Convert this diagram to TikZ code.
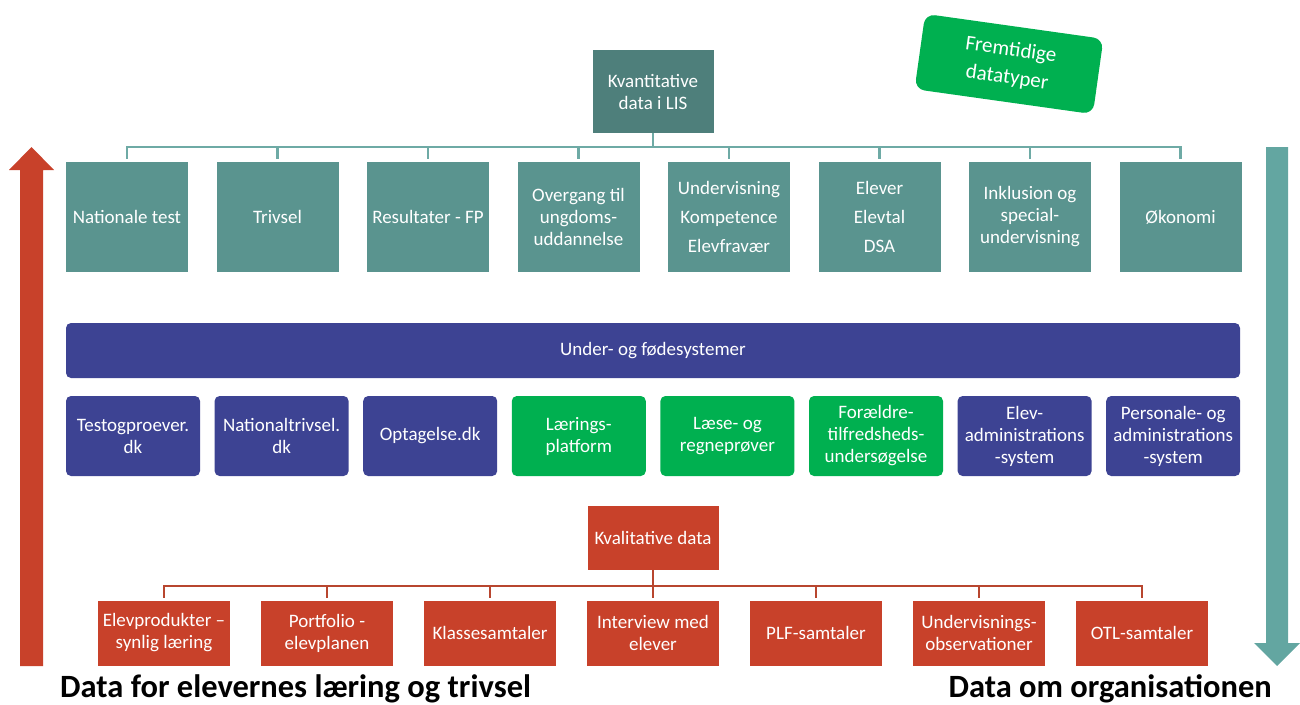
\documentclass[tikz,border=0pt]{standalone}
\usepackage{fontspec}
\setmainfont{Carlito}
\usetikzlibrary{positioning}

\definecolor{kvantdark}{HTML}{4E7F7B}
\definecolor{tealbox}{HTML}{5A948F}
\definecolor{tealline}{HTML}{6EAAA5}
\definecolor{tealarrow}{HTML}{63A6A1}
\definecolor{feedpurple}{HTML}{3D4393}
\definecolor{futuregreen}{HTML}{00B050}
\definecolor{redbox}{HTML}{C8412A}
\definecolor{redline}{HTML}{B8462F}

\begin{document}
\begin{tikzpicture}[x=1pt,y=-1pt,
    box/.style={fill=#1,text=white,align=center,inner sep=2pt,
      font=\fontsize{19}{22}\selectfont},
    quantbox/.style={box=tealbox,minimum width=122pt,minimum height=110pt},
    srcbox/.style={box=#1,rounded corners=5pt,minimum width=134pt,minimum height=80pt},
    qualbox/.style={box=redbox,minimum width=132pt,minimum height=65pt},
    tealconn/.style={draw=tealline,line width=2.5pt,shorten >=2.5pt},
    redconn/.style={draw=redline,line width=2.5pt,shorten >=2.5pt},
    bottomlabel/.style={inner sep=0pt,font=\fontsize{32.5}{38}\selectfont\bfseries}
  ]
    \useasboundingbox (0,0) rectangle (1300,704);

    % Side arrows
    \fill[redbox] (20,666) -- (20,170) -- (9,170) -- (31.5,147) -- (54,170)
      -- (43,170) -- (43,666) -- cycle;
    \fill[tealarrow] (1266,147) -- (1266,643) -- (1254,643) -- (1277,666)
      -- (1300,643) -- (1288,643) -- (1288,147) -- cycle;

    % Quantitative data
    \node[box=kvantdark,minimum width=121pt,minimum height=83pt] (kvant) at (653,91.5)
      {Kvantitative\\data i LIS};
    \foreach \name/\label [count=\i from 0] in {
        q1/{Nationale test},
        q2/{Trivsel},
        q3/{Resultater - FP},
        q4/{Overgang til\\ungdoms-\\uddannelse},
        q5/{Undervisning\\[7pt]Kompetence\\[7pt]Elevfravær},
        q6/{Elever\\[7pt]Elevtal\\[7pt]DSA},
        q7/{Inklusion og\\special-\\undervisning},
        q8/{Økonomi}}
    {
      \node[quantbox] (\name) at (127+150.5*\i,217) {\label};
    };
    \coordinate (qbus) at (653,147);
    \foreach \i in {1,...,8}
    {
      \draw[tealconn] (kvant.south) -- (kvant.south |- qbus) -| (q\i.north);
    };

    % Future data types
    \node[box=futuregreen,rounded corners=10pt,minimum width=180pt,minimum height=76pt,
      rotate=-8,font=\fontsize{21}{28}\selectfont] (future) at (1009,64)
      {Fremtidige\\datatyper};

    % Feeder systems
    \node[box=feedpurple,rounded corners=5pt,minimum width=1174pt,minimum height=55pt]
      (feeder) at (653,350.5) {Under- og fødesystemer};
    \foreach \name/\col/\label [count=\i from 0] in {
        s1/feedpurple/{Testogproever.\\dk},
        s2/feedpurple/{Nationaltrivsel.\\dk},
        s3/feedpurple/{Optagelse.dk},
        s4/futuregreen/{Lærings-\\platform},
        s5/futuregreen/{Læse- og\\regneprøver},
        s6/futuregreen/{Forældre-\\tilfredsheds-\\undersøgelse},
        s7/feedpurple/{Elev-\\administrations\\-system},
        s8/feedpurple/{Personale- og\\administrations\\-system}}
    {
      \node[srcbox=\col] (\name) at (133+148.6*\i,436) {\label};
    };

    % Qualitative data
    \node[box=redbox,minimum width=131pt,minimum height=64pt] (kval) at (653,538)
      {Kvalitative data};
    \foreach \name/\label [count=\i from 0] in {
        r1/{Elevprodukter --\\synlig læring},
        r2/{Portfolio -\\elevplanen},
        r3/{Klassesamtaler},
        r4/{Interview med\\elever},
        r5/{PLF-samtaler},
        r6/{Undervisnings-\\observationer},
        r7/{OTL-samtaler}}
    {
      \node[qualbox] (\name) at (164+163*\i,633) {\label};
    };
    \coordinate (rbus) at (653,586);
    \foreach \i in {1,...,7}
    {
      \draw[redconn] (kval.south) -- (kval.south |- rbus) -| (r\i.north);
    };

    % Bottom captions
    \node[bottomlabel,anchor=base west] (learning) at (60,697)
      {Data for elevernes læring og trivsel};
    \node[bottomlabel,anchor=base east] (organisation) at (1272,697)
      {Data om organisationen};
\end{tikzpicture}
\end{document}
